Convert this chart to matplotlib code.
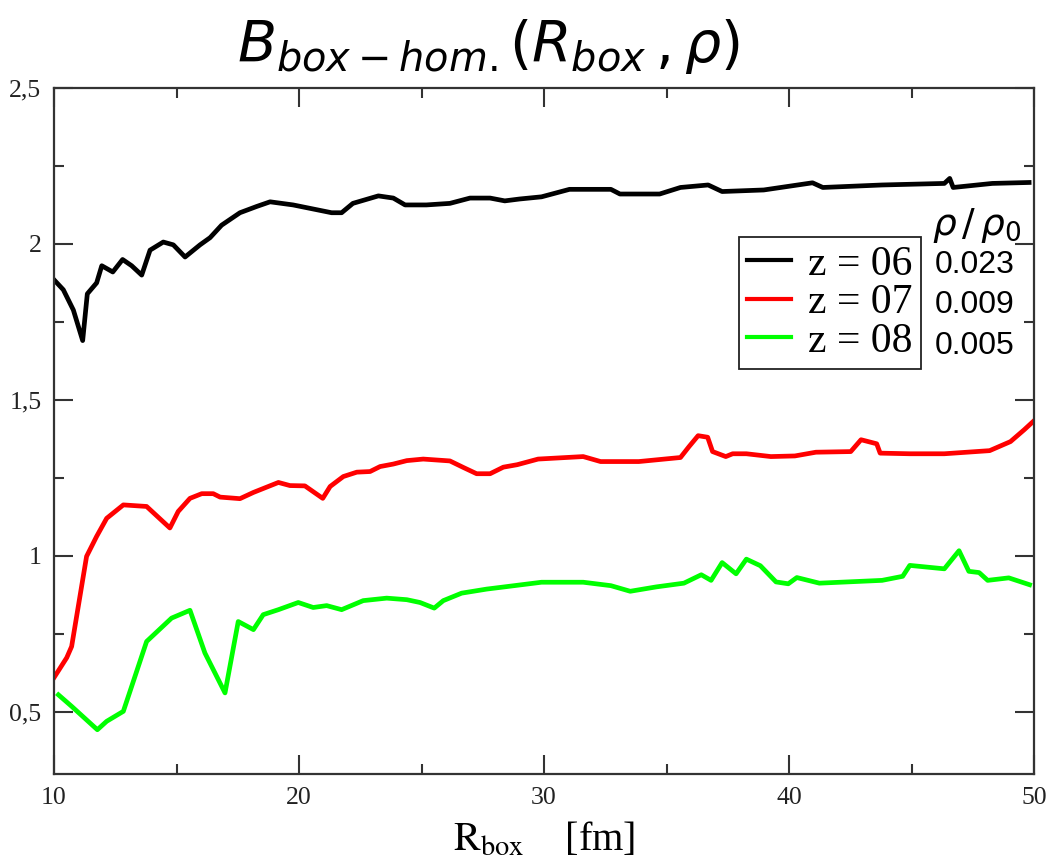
import numpy as np
import matplotlib
matplotlib.use('Agg')
import matplotlib.pyplot as plt
from matplotlib.ticker import FixedLocator, FixedFormatter, MultipleLocator

# data
black_x = [10, 10.38, 10.79, 11.17, 11.36, 11.74, 11.95, 12.4, 12.8, 13.17, 13.58, 13.92, 14.46, 14.87,
           15.35, 15.96, 16.37, 16.84, 17.59, 18.27, 18.82, 19.76, 21.33, 21.74, 22.2, 23.24, 23.85, 24.33,
           25.2, 26.16, 26.98, 27.8, 28.4, 29.0, 29.9, 31.04, 32.73, 33.1, 34.72, 35.57, 36.7, 37.27, 38.97,
           40.96, 41.38, 43.8, 46.34, 46.56, 46.7, 48.3, 49.8]
black_y = [1.885, 1.853, 1.788, 1.69, 1.84, 1.875, 1.93, 1.91, 1.95, 1.93, 1.90, 1.98, 2.006, 1.997,
           1.958, 1.997, 2.02, 2.06, 2.10, 2.12, 2.135, 2.125, 2.10, 2.10, 2.13, 2.154, 2.147, 2.125,
           2.125, 2.13, 2.147, 2.147, 2.138, 2.144, 2.151, 2.175, 2.175, 2.16, 2.16, 2.181, 2.189, 2.168, 2.173,
           2.196, 2.181, 2.189, 2.194, 2.21, 2.181, 2.194, 2.197]

red_x = [10, 10.52, 10.72, 10.99, 11.33, 11.74, 12.15, 12.83, 13.78, 14.73, 15.07, 15.55, 16.03, 16.5,
         16.78, 17.59, 18.14, 19.16, 19.63, 20.24, 20.97, 21.27, 21.81, 22.36, 22.9, 23.31, 23.85, 24.4,
         25.07, 26.16, 26.71, 27.25, 27.8, 28.34, 28.91, 29.76, 31.6, 32.31, 33.87, 35.57, 35.92, 36.29,
         36.68, 36.88, 37.42, 37.7, 38.26, 39.26, 40.24, 41.1, 42.52, 42.94, 43.58, 43.72, 44.93, 46.34,
         48.19, 49.04, 49.6, 49.96]
red_y = [0.609, 0.673, 0.709, 0.837, 0.998, 1.062, 1.12, 1.163, 1.158, 1.089, 1.142, 1.184, 1.199, 1.199,
         1.188, 1.183, 1.203, 1.235, 1.225, 1.224, 1.184, 1.222, 1.254, 1.268, 1.27, 1.286, 1.294, 1.305,
         1.31, 1.304, 1.283, 1.263, 1.263, 1.284, 1.292, 1.31, 1.318, 1.302, 1.302, 1.315, 1.35, 1.385,
         1.38, 1.334, 1.318, 1.327, 1.327, 1.318, 1.32, 1.332, 1.334, 1.372, 1.359, 1.329, 1.327, 1.327,
         1.337, 1.366, 1.404, 1.43]

green_x = [10.18, 10.72, 11.77, 12.15, 12.83, 13.17, 13.78, 14.8, 15.55, 16.16, 16.98, 17.52, 18.14, 18.54,
           19.16, 19.97, 20.58, 21.13, 21.74, 22.62, 23.58, 24.4, 24.94, 25.52, 25.89, 26.64, 27.66, 28.48,
           29.9, 31.6, 32.73, 33.52, 34.58, 35.71, 36.42, 36.82, 37.27, 37.84, 38.26, 38.83, 39.47, 39.97,
           40.32, 41.24, 43.8, 44.64, 44.93, 46.34, 46.94, 47.34, 47.76, 48.11, 48.97, 49.82]
green_y = [0.554, 0.517, 0.442, 0.469, 0.501, 0.581, 0.725, 0.8, 0.825, 0.688, 0.56, 0.789, 0.763, 0.811,
           0.827, 0.85, 0.834, 0.84, 0.827, 0.856, 0.864, 0.859, 0.85, 0.832, 0.856, 0.88, 0.893, 0.901,
           0.915, 0.915, 0.904, 0.886, 0.9, 0.912, 0.939, 0.921, 0.978, 0.942, 0.989, 0.968, 0.916, 0.91,
           0.93, 0.912, 0.921, 0.934, 0.969, 0.958, 1.016, 0.95, 0.946, 0.921, 0.929, 0.907]

labels = ['z = 06', 'z = 07', 'z = 08']
densities = ['0.023', '0.009', '0.005']
colors = ['black', '#ff0000', '#00ff00']

xticks = [10, 20, 30, 40, 50]
xticklabels = ['10', '20', '30', '40', '50']
yticks = [0.5, 1.0, 1.5, 2.0, 2.5]
yticklabels = ['0,5', '1', '1,5', '2', '2,5']

fig = plt.figure(figsize=(10.49, 8.6), dpi=100)
ax = fig.add_axes([54/1049, 1 - 774/860, 980/1049, 686/860])

series = [(black_x, black_y), (red_x, red_y), (green_x, green_y)]
for (xs, ys), c, lab in zip(series, colors, labels):
    ax.plot(xs, ys, color=c, lw=3.4, label=lab, solid_joinstyle='round')

ax.set_xlim(10, 50)
ax.set_ylim(0.3, 2.5)

ax.xaxis.set_major_locator(FixedLocator(xticks))
ax.xaxis.set_major_formatter(FixedFormatter(xticklabels))
ax.xaxis.set_minor_locator(MultipleLocator(5))
ax.yaxis.set_major_locator(FixedLocator(yticks))
ax.yaxis.set_major_formatter(FixedFormatter(yticklabels))
ax.yaxis.set_minor_locator(MultipleLocator(0.25))

ax.tick_params(which='both', direction='in', top=True, right=True, color='#333333', width=1.5)
ax.tick_params(which='major', length=14, labelsize=18.5, pad=9)
ax.tick_params(which='minor', length=7)
for lab in ax.get_xticklabels() + ax.get_yticklabels():
    lab.set_family('Liberation Serif')
    lab.set_color('#222222')
for sp in ax.spines.values():
    sp.set_color('#333333')
    sp.set_linewidth(1.6)

ax.set_xlabel(r'$\mathrm{R}_{\mathrm{box}}$    [fm]', family='Liberation Serif', fontsize=29,
              math_fontfamily='stix', labelpad=9)

fig.text(488/1049, 1 - 62/860, r'$B_{box-hom.}(R_{box}\,,\rho)$', fontsize=41,
         ha='center', va='baseline', math_fontfamily='dejavusans')

leg = ax.legend(loc='upper left', bbox_to_anchor=((739 - 54)/980, (774 - 237)/686),
                prop={'family': 'Liberation Serif', 'size': 30}, frameon=True, fancybox=False,
                edgecolor='#222222', framealpha=1, borderpad=0.2, labelspacing=0.0,
                handlelength=1.05, handletextpad=0.4, borderaxespad=0)
leg.get_frame().set_linewidth(1.3)
for h in leg.get_lines():
    h.set_linewidth(3.0)

ax.text(0.896, 0.80, r'$\rho\,/\,\rho_0$', transform=ax.transAxes, fontsize=27,
        ha='left', va='center', math_fontfamily='dejavusans')
for i, d in enumerate(densities):
    ax.text(0.899, 0.742 - i*0.059, d, transform=ax.transAxes, fontsize=23,
            family='Liberation Sans', ha='left', va='center')

fig.savefig('out.png', dpi=100)
